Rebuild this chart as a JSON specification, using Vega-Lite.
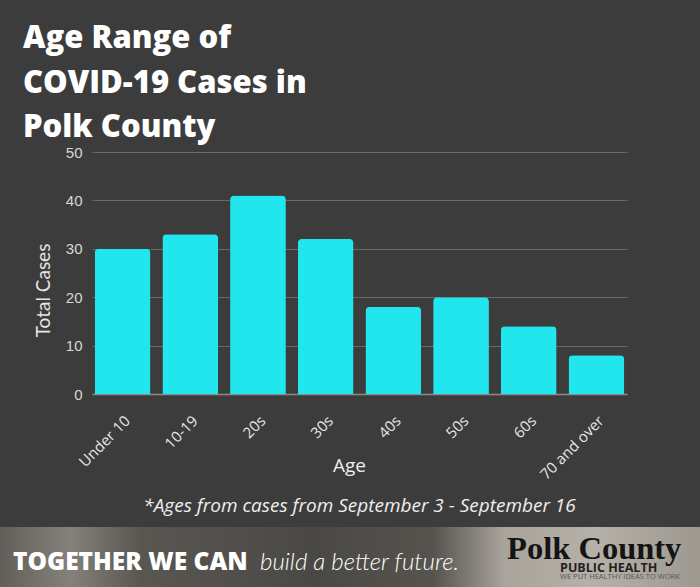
{
  "$schema": "https://vega.github.io/schema/vega-lite/v6.json",
  "background": "#3c3c3c",
  "padding": {"left": 0, "right": 0, "top": 23, "bottom": 0},
  "title": {
    "text": ["Age Range of", "COVID-19 Cases in", "Polk County"],
    "anchor": "start",
    "frame": "bounds",
    "dx": 23,
    "font": "Open Sans",
    "fontSize": 31,
    "fontWeight": 800,
    "color": "#ffffff",
    "lineHeight": 44.5,
    "offset": 1
  },
  "datasets": {
    "cases": [
      {"age": "Under 10", "cases": 30},
      {"age": "10-19", "cases": 33},
      {"age": "20s", "cases": 41},
      {"age": "30s", "cases": 32},
      {"age": "40s", "cases": 18},
      {"age": "50s", "cases": 20},
      {"age": "60s", "cases": 14},
      {"age": "70 and over", "cases": 8}
    ],
    "banner": [
      {"part": "tagline", "text": "TOGETHER WE CAN"},
      {"part": "script", "text": "build a better future."},
      {"part": "logo", "text": "Polk County"},
      {"part": "logo", "text": "PUBLIC HEALTH"},
      {"part": "logo", "text": "WE PUT HEALTHY IDEAS TO WORK"}
    ]
  },
  "spacing": 10,
  "vconcat": [
    {
      "spacing": 10,
      "hconcat": [
        {
          "width": 24,
          "height": 10,
          "data": {"values": []},
          "mark": "point"
        },
        {
          "width": 535,
          "height": 242,
          "data": {"name": "cases"},
          "title": {
            "text": "*Ages from cases from September 3 - September 16",
            "orient": "bottom",
            "anchor": "middle",
            "font": "Open Sans",
            "fontStyle": "italic",
            "fontWeight": "normal",
            "fontSize": 19,
            "color": "#eeeeee",
            "offset": 15
          },
          "mark": {"type": "bar", "color": "#22e6ee", "cornerRadiusTopLeft": 4, "cornerRadiusTopRight": 4},
          "encoding": {
            "x": {
              "field": "age",
              "type": "nominal",
              "sort": null,
              "scale": {"paddingInner": 0.176, "paddingOuter": 0.04},
              "axis": {
                "labelAngle": -45,
                "labelFont": "Open Sans",
                "labelFontSize": 15,
                "labelColor": "#e8e8e8",
                "labelPadding": 19,
                "ticks": false,
                "domain": true,
                "domainColor": "#8a8a8a",
                "domainWidth": 1.5,
                "title": "Age",
                "titleFont": "Open Sans",
                "titleFontSize": 19,
                "titleFontWeight": "normal",
                "titleColor": "#eeeeee",
                "titleX": 257,
                "titleY": 77,
                "titleAlign": "center",
                "titleBaseline": "alphabetic"
              }
            },
            "y": {
              "field": "cases",
              "type": "quantitative",
              "scale": {"domain": [0, 50]},
              "axis": {
                "values": [0, 10, 20, 30, 40, 50],
                "grid": true,
                "gridColor": "#a0a0a0",
                "gridOpacity": 0.45,
                "domain": false,
                "ticks": false,
                "labelFont": "Liberation Sans",
                "labelFontSize": 15,
                "labelColor": "#d6d6d6",
                "labelPadding": 10,
                "title": "Total Cases",
                "titleFont": "Lato",
                "titleFontSize": 19,
                "titleFontWeight": "normal",
                "titleColor": "#e6e6e6",
                "titleX": -43,
                "titleY": 138,
                "titleAngle": -90,
                "titleAlign": "center",
                "titleBaseline": "alphabetic"
              }
            }
          }
        }
      ]
    },
    {
      "width": 700,
      "height": 60,
      "data": {"name": "banner"},
      "view": {
        "fill": {
          "gradient": "linear",
          "x1": 0, "y1": 0, "x2": 1, "y2": 0,
          "stops": [
            {"offset": 0, "color": "#625f5b"},
            {"offset": 0.1, "color": "#84807a"},
            {"offset": 0.2, "color": "#5a5753"},
            {"offset": 0.45, "color": "#4a4845"},
            {"offset": 0.62, "color": "#57544f"},
            {"offset": 0.72, "color": "#a8a39b"},
            {"offset": 0.85, "color": "#b6b1a8"},
            {"offset": 1, "color": "#9d9890"}
          ]
        }
      },
      "encoding": {
        "x": {
          "field": "part",
          "type": "nominal",
          "bandPosition": 0,
          "scale": {
            "type": "band",
            "domain": ["tagline", "script", "logo"],
            "paddingInner": 0.3,
            "paddingOuter": 0.0668,
            "align": 0.394
          },
          "axis": null
        },
        "text": {"field": "text"}
      },
      "layer": [
        {
          "transform": [{"filter": "datum.part === 'tagline'"}],
          "mark": {"type": "text", "align": "left", "baseline": "alphabetic", "dy": 13, "font": "Open Sans", "fontWeight": 800, "fontSize": 24.5, "color": "#ffffff"}
        },
        {
          "transform": [{"filter": "datum.part === 'script'"}],
          "mark": {"type": "text", "align": "left", "baseline": "alphabetic", "dy": 13, "font": "Lato", "fontStyle": "italic", "fontWeight": 300, "fontSize": 24, "color": "#ffffff"}
        },
        {
          "transform": [{"filter": "datum.text === 'Polk County'"}],
          "mark": {"type": "text", "align": "left", "baseline": "alphabetic", "dy": 2, "font": "Liberation Serif", "fontWeight": "bold", "fontSize": 32.5, "color": "#141414"}
        },
        {
          "transform": [{"filter": "datum.text === 'PUBLIC HEALTH'"}],
          "mark": {"type": "text", "align": "left", "baseline": "alphabetic", "dx": 53, "dy": 14.5, "font": "Open Sans", "fontWeight": "bold", "fontSize": 12.5, "color": "#222222"}
        },
        {
          "transform": [{"filter": "datum.text === 'WE PUT HEALTHY IDEAS TO WORK'"}],
          "mark": {"type": "text", "align": "left", "baseline": "alphabetic", "dx": 53, "dy": 22, "font": "Open Sans", "fontSize": 7.5, "color": "#555555"}
        }
      ]
    }
  ],
  "config": {"view": {"stroke": null}}
}
